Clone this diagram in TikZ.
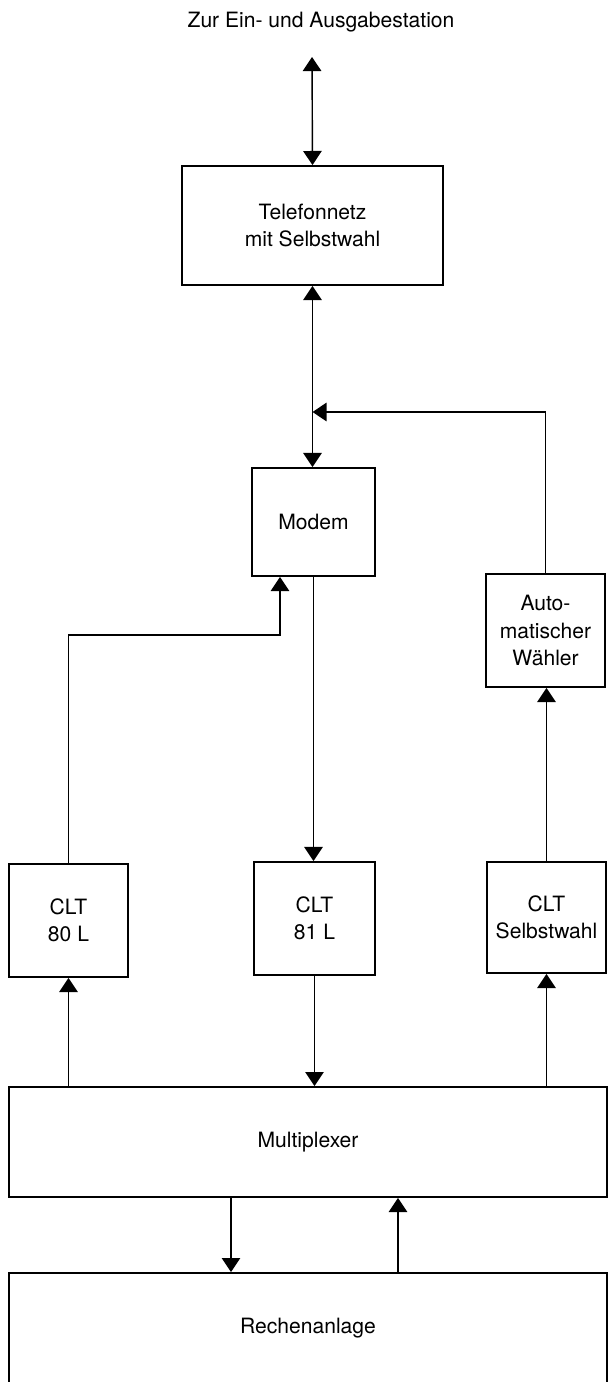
\documentclass[tikz,border=0pt]{standalone}
\usepackage{fontspec}
\setmainfont{TeX Gyre Heros}
\usepackage{tikz}
\usetikzlibrary{arrows.meta,positioning,calc}

\begin{document}
\begin{tikzpicture}[x=0.02cm,y=-0.02cm,
    block/.style={draw,line width=1.1pt,align=center,inner sep=0pt,
      font=\fontsize{12}{15.6}\selectfont},
    link/.style={line width=0.8pt,-{Triangle[length=8pt,width=10.5pt]}},
    both/.style={line width=0.8pt,
      {Triangle[length=8pt,width=10.5pt]}-{Triangle[length=8pt,width=10.5pt]}}]
  \useasboundingbox (0,0) rectangle (608,1382);

  % Anschluss oben
  \node[font=\fontsize{12}{15.6}\selectfont] (ziel) at (321,22) {Zur Ein- und Ausgabestation};
  \coordinate (station) at (312,57);

  \node[block,minimum width=5.22cm,minimum height=2.38cm] (tel) at (312.5,225.5)
    {Telefonnetz\\mit Selbstwahl};
  \node[block,minimum width=2.46cm,minimum height=2.16cm] (modem) at (313.5,522) {Modem};
  \node[block,minimum width=2.38cm,minimum height=2.26cm] (waehler) at (545.5,630.5)
    {Auto-\\matischer\\Wähler};

  % Leitungssteuerungen
  \node[block,minimum width=2.38cm,minimum height=2.26cm] (clta) at (68.5,920.5) {CLT\\80 L};
  \node[block,minimum width=2.42cm,minimum height=2.26cm] (cltb) at (314.5,918.5) {CLT\\81 L};
  \node[block,minimum width=2.38cm,minimum height=2.22cm] (cltc) at (546.5,917.5) {CLT\\Selbstwahl};

  \node[block,minimum width=11.96cm,minimum height=2.2cm] (mux) at (308,1142) {Multiplexer};
  \node[block,minimum width=11.96cm,minimum height=2.2cm] (rechner) at (308,1328) {Rechenanlage};

  \coordinate (einsp) at (tel.south |- 0,412);
  \coordinate (knick) at (280,635);

  \draw[both] (station) -- (tel.north);
  \draw[both] (tel.south) -- (tel.south |- modem.north);
  \draw[link] (waehler.north) |- (einsp);
  \draw[link] (clta.north) |- (knick) -- (knick |- modem.south);
  \draw[link] (modem.south) -- (modem.south |- cltb.north);
  \draw[link] (cltc.north) -- (cltc.north |- waehler.south);

  \draw[link] (clta.south |- mux.north) -- (clta.south);
  \draw[link] (cltb.south) -- (cltb.south |- mux.north);
  \draw[link] (cltc.south |- mux.north) -- (cltc.south);

  \draw[link] (mux.south -| 231,0) -- (rechner.north -| 231,0);
  \draw[link] (rechner.north -| 398,0) -- (mux.south -| 398,0);
\end{tikzpicture}
\end{document}
